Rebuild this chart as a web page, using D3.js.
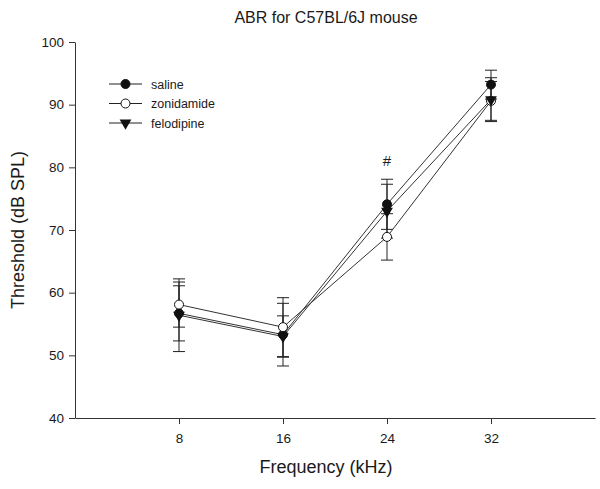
<!DOCTYPE html>
<html lang="en">
<head>
  <meta charset="UTF-8">
  <title>ABR for C57BL/6J mouse</title>
  <script src="https://d3js.org/d3.v7.min.js"></script>
  <style>
    body { margin: 0; background: #fff; }
    text { font-family: "Liberation Sans", Arial, sans-serif; fill: #1a1a1a; }
  </style>
</head>
<body>
  <svg width="600" height="489"></svg>

  <script>
    // data
    const frequencies = [8, 16, 24, 32];
    const seriesNames = ["saline", "zonidamide", "felodipine"];
    const salineMean = [56.7, 53.3, 74.1, 93.2];
    const salineErr = [4.4, 5.0, 4.0, 2.3];
    const zonidamideMean = [58.1, 54.5, 68.9, 90.6];
    const zonidamideErr = [3.6, 4.7, 3.7, 3.1];
    const felodipineMean = [56.4, 53.0, 73.0, 90.8];
    const felodipineErr = [5.8, 3.3, 4.3, 3.5];
    const yTicks = [40, 50, 60, 70, 80, 90, 100];
    const markLabel = { freq: 24, value: 80.2, text: "#" };

    const svg = d3.select("svg");
    const margin = {top: 42, right: 5, bottom: 71, left: 75};
    const width = 600, height = 489;

    const x = d3.scaleLinear().domain([0, 40]).range([margin.left, width - margin.right]);
    const y = d3.scaleLinear().domain([40, 100]).range([height - margin.bottom, margin.top]);

    // title
    svg.append("text")
      .attr("x", 326).attr("y", 23)
      .attr("text-anchor", "middle")
      .style("font-size", "16px")
      .text("ABR for C57BL/6J mouse");

    // y axis
    const yAxis = svg.append("g")
      .attr("transform", `translate(${margin.left},0)`)
      .call(d3.axisLeft(y).tickValues(yTicks).tickSize(6).tickPadding(5).tickSizeOuter(0));
    yAxis.selectAll("text").style("font-size", "13.5px").style("font-family", "Liberation Sans, Arial, sans-serif").attr("fill", "#222");
    yAxis.selectAll("line, path").attr("stroke", "#333");

    // x axis
    const xAxis = svg.append("g")
      .attr("transform", `translate(0,${height - margin.bottom})`)
      .call(d3.axisBottom(x).tickValues(frequencies).tickSize(6).tickPadding(9).tickSizeOuter(0));
    xAxis.selectAll("text").style("font-size", "13.5px").style("font-family", "Liberation Sans, Arial, sans-serif").attr("fill", "#222");
    xAxis.selectAll("line, path").attr("stroke", "#333");

    // axis labels
    svg.append("text")
      .attr("x", 326).attr("y", 473)
      .attr("text-anchor", "middle")
      .style("font-size", "18px")
      .text("Frequency (kHz)");

    svg.append("text")
      .attr("transform", "translate(24,230) rotate(-90)")
      .attr("text-anchor", "middle")
      .style("font-size", "18px")
      .text("Threshold (dB SPL)");

    const series = [
      {name: "saline", mean: salineMean, err: salineErr, marker: "filledCircle"},
      {name: "zonidamide", mean: zonidamideMean, err: zonidamideErr, marker: "openCircle"},
      {name: "felodipine", mean: felodipineMean, err: felodipineErr, marker: "triangle"}
    ];

    function drawMarker(g, type, cx, cy) {
      if (type === "triangle") {
        g.append("path")
          .attr("d", d3.symbol().type(d3.symbolTriangle).size(60)())
          .attr("transform", `translate(${cx},${cy}) rotate(180)`)
          .attr("fill", "#111");
      } else {
        g.append("circle")
          .attr("cx", cx).attr("cy", cy).attr("r", 4.5)
          .attr("fill", type === "openCircle" ? "#fff" : "#111")
          .attr("stroke", "#111").attr("stroke-width", 1);
      }
    }

    const line = d3.line().x((d, i) => x(frequencies[i])).y(d => y(d));
    const plot = svg.append("g");

    // error bars
    series.forEach(s => {
      s.mean.forEach((m, i) => {
        const cx = x(frequencies[i]);
        const g = plot.append("g").attr("stroke", "#222").attr("stroke-width", 1);
        g.append("line").attr("x1", cx).attr("x2", cx).attr("y1", y(m - s.err[i])).attr("y2", y(m + s.err[i]));
        [m - s.err[i], m + s.err[i]].forEach(v => {
          g.append("line").attr("x1", cx - 6).attr("x2", cx + 6).attr("y1", y(v)).attr("y2", y(v));
        });
      });
    });

    // lines
    series.forEach(s => {
      plot.append("path")
        .datum(s.mean)
        .attr("d", line)
        .attr("fill", "none")
        .attr("stroke", "#333")
        .attr("stroke-width", 1);
    });

    // markers
    series.forEach(s => {
      s.mean.forEach((m, i) => drawMarker(plot, s.marker, x(frequencies[i]), y(m)));
    });

    // significance mark
    svg.append("text")
      .attr("x", x(markLabel.freq)).attr("y", y(markLabel.value))
      .attr("text-anchor", "middle")
      .style("font-size", "15px")
      .text(markLabel.text);

    // legend
    const legend = svg.append("g").attr("transform", "translate(109,84)");
    series.forEach((s, i) => {
      const row = legend.append("g").attr("transform", `translate(0,${i * 19.5})`);
      row.append("line").attr("x1", 0).attr("x2", 33).attr("y1", 0).attr("y2", 0)
        .attr("stroke", "#222").attr("stroke-width", 1);
      drawMarker(row, s.marker, 16.5, 0);
      row.append("text")
        .attr("x", 42).attr("y", 4.5)
        .style("font-size", "12.5px")
        .text(seriesNames[i]);
    });
  </script>
</body>
</html>
